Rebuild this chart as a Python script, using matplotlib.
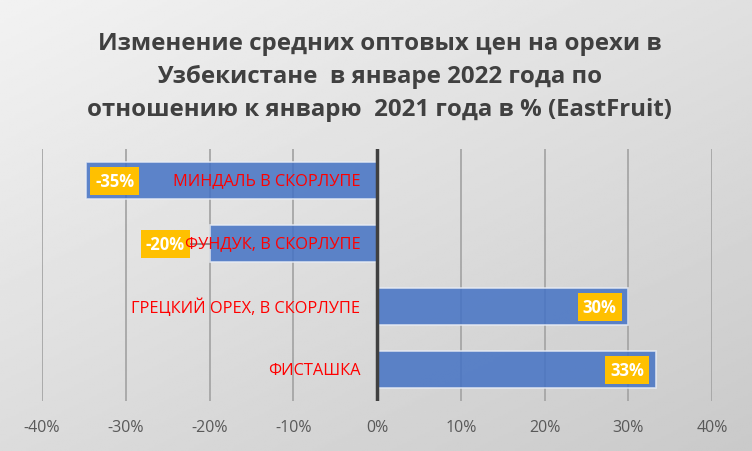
import numpy as np
import matplotlib
matplotlib.use("Agg")
import matplotlib.pyplot as plt

plt.rcParams['font.family'] = ['Open Sans', 'DejaVu Sans']

categories = ['МИНДАЛЬ В СКОРЛУПЕ', 'ФУНДУК, В СКОРЛУПЕ',
              'ГРЕЦКИЙ ОРЕХ, В СКОРЛУПЕ', 'ФИСТАШКА']
values = [-34.7, -19.9, 30.0, 33.3]
value_labels = ['-35%', '-20%', '30%', '33%']
xticks = [-40, -30, -20, -10, 0, 10, 20, 30, 40]
title = ('Изменение средних оптовых цен на орехи в\n'
         'Узбекистане  в январе 2022 года по\n'
         'отношению к январю  2021 года в % (EastFruit)')

fig = plt.figure(figsize=(7.52, 4.52), dpi=100)

# gradient background
bg = fig.add_axes([0, 0, 1, 1], zorder=-10)
yy, xx = np.mgrid[0:1:200j, 0:1:300j]
grad = 0.95 - 0.16 * (0.55 * yy + 0.45 * xx)
bg.imshow(grad, cmap='gray', vmin=0, vmax=1, aspect='auto', extent=[0, 1, 0, 1])
bg.set_axis_off()

fig.text(0.505, 0.93, title, ha='center', va='top', fontsize=17.3,
         fontweight='bold', color='#404040', linespacing=1.5)

ax = fig.add_axes([0.0559, 0.1106, 0.8909, 0.5574])
ax.patch.set_alpha(0)
y = np.arange(len(categories))
ax.barh(y, values, height=0.59, color='#4472C4', alpha=0.85,
        edgecolor='#e8ecf4', linewidth=1.2, zorder=3)
ax.set_xlim(-40, 40)
ax.set_ylim(len(categories) - 0.5, -0.5)
ax.set_xticks(xticks)
ax.set_xticklabels([f'{t}%' for t in xticks], fontsize=11.5, color='#595959')
ax.set_yticks([])
ax.tick_params(axis='x', length=0, pad=13)
for s in ax.spines.values():
    s.set_visible(False)
for t in xticks:
    if t != 0:
        ax.axvline(t, color='#a6a6a6', lw=1.3, zorder=1)
ax.axvline(0, color='#404040', lw=2.5, zorder=4)

# category names in red, right-aligned near zero
for i, name in enumerate(categories):
    ax.text(-2.0, i, name, ha='right', va='center', fontsize=11.8,
            color='#ff0000', zorder=6)

# value labels in yellow boxes
for i, (v, lab) in enumerate(zip(values, value_labels)):
    if lab == '-20%':
        xpos = v - 5.4
        ax.plot([v - 2.4, v], [i, i], color='#7f7f7f', lw=1.2, zorder=4)
    else:
        xpos = v - np.sign(v) * 3.4
    ax.text(xpos, i, lab, ha='center', va='center', fontsize=12,
            fontweight='bold', color='white', zorder=5,
            bbox=dict(boxstyle='square,pad=0.3', fc='#FFC000', ec='none'))

fig.savefig('out.png', dpi=100)
